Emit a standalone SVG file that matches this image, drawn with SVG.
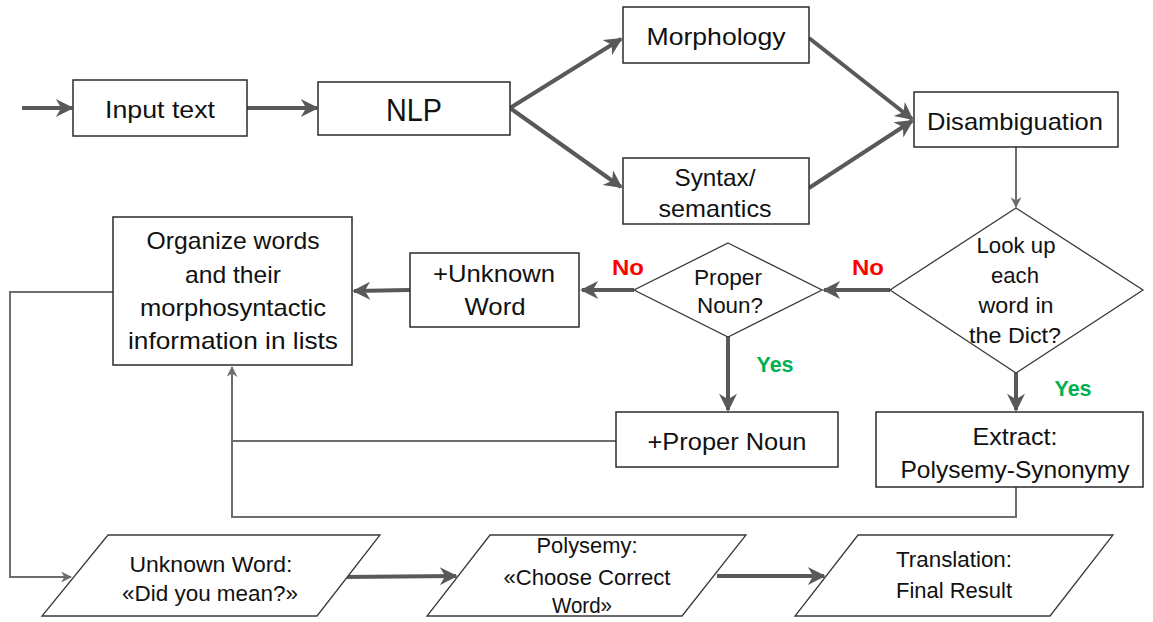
<svg xmlns="http://www.w3.org/2000/svg" width="1153" height="622" viewBox="0 0 1153 622">
<style>
.box{fill:#fff;stroke:#2b2b2b;stroke-width:1.5}
.dia{fill:#fff;stroke:#3a3a3a;stroke-width:1.3}
.t{font-family:"Liberation Sans",Arial,sans-serif;font-size:24px;fill:#111;text-anchor:middle}
.tb{font-family:"Liberation Sans",Arial,sans-serif;font-size:22px;fill:#111;text-anchor:middle}
.thick{stroke:#595959;stroke-width:4;fill:none}
.thin{stroke:#6e6e6e;stroke-width:2;fill:none}
.no{font-family:"Liberation Sans",Arial,sans-serif;font-size:22px;font-weight:bold;fill:#ff0000;text-anchor:middle}
.yes{font-family:"Liberation Sans",Arial,sans-serif;font-size:22px;font-weight:bold;fill:#00b050;text-anchor:middle}
</style>
<defs>
<marker id="ah" viewBox="0 0 10 10" refX="9" refY="5" markerWidth="5" markerHeight="4.5" orient="auto" markerUnits="strokeWidth">
<path d="M0,0 L10,5 L0,10 L3,5 z" fill="#595959"/>
</marker>
<marker id="ahs" viewBox="0 0 10 10" refX="9" refY="5" markerWidth="6" markerHeight="5.5" orient="auto" markerUnits="strokeWidth">
<path d="M0,0 L10,5 L0,10 L3,5 z" fill="#6e6e6e"/>
</marker>
</defs>
<g id="connectors">
<line class="thick" x1="22" y1="108" x2="72" y2="108" marker-end="url(#ah)"/>
<line class="thick" x1="247" y1="108" x2="317" y2="108" marker-end="url(#ah)"/>
<line class="thick" x1="510" y1="108" x2="621" y2="39" marker-end="url(#ah)"/>
<line class="thick" x1="510" y1="108" x2="621" y2="187" marker-end="url(#ah)"/>
<line class="thick" x1="809" y1="38" x2="912" y2="119" marker-end="url(#ah)"/>
<line class="thick" x1="809" y1="188" x2="912" y2="121" marker-end="url(#ah)"/>
<line class="thin" x1="1016" y1="147" x2="1016" y2="207" marker-end="url(#ahs)"/>
<line class="thick" x1="890" y1="290" x2="824" y2="290" marker-end="url(#ah)"/>
<line class="thick" x1="634" y1="290" x2="582" y2="290" marker-end="url(#ah)"/>
<line class="thick" x1="410" y1="290" x2="354" y2="291" marker-end="url(#ah)"/>
<line class="thick" x1="728" y1="337" x2="728" y2="410" marker-end="url(#ah)"/>
<line class="thick" x1="1016" y1="373" x2="1016" y2="410" marker-end="url(#ah)"/>
<polyline class="thin" points="616,441 232,441 232,367" marker-end="url(#ahs)"/>
<polyline class="thin" points="1016,487 1016,517 232,517 232,441"/>
<polyline class="thin" points="113,292 10,292 10,577 71,577" marker-end="url(#ahs)"/>
<line class="thick" x1="343" y1="577" x2="456" y2="576" marker-end="url(#ah)"/>
<line class="thick" x1="717" y1="576" x2="824" y2="576" marker-end="url(#ah)"/>
</g>
<g id="input-text"><rect class="box" x="73" y="80" width="174" height="56"/><text class="t" x="160" y="118" textLength="110" lengthAdjust="spacingAndGlyphs">Input text</text></g>
<g id="nlp"><rect class="box" x="318" y="82" width="192" height="53"/><text class="t" x="414" y="121" style="font-size:31px" textLength="56" lengthAdjust="spacingAndGlyphs">NLP</text></g>
<g id="morphology"><rect class="box" x="623" y="7" width="186" height="56"/><text class="t" x="716" y="45" textLength="139" lengthAdjust="spacingAndGlyphs">Morphology</text></g>
<g id="syntax"><rect class="box" x="623" y="158" width="186" height="66"/><text class="t" x="715" y="186" textLength="81" lengthAdjust="spacingAndGlyphs">Syntax/</text><text class="t" x="715" y="217" textLength="113" lengthAdjust="spacingAndGlyphs">semantics</text></g>
<g id="disambiguation"><rect class="box" x="914" y="92" width="204" height="55"/><text class="t" x="1015" y="130" textLength="176" lengthAdjust="spacingAndGlyphs">Disambiguation</text></g>
<g id="lookup"><polygon class="dia" points="1016,208 1143,290 1016,373 890,290"/><text class="tb" x="1016" y="253" textLength="79" lengthAdjust="spacingAndGlyphs">Look up</text><text class="tb" x="1015" y="283" textLength="48" lengthAdjust="spacingAndGlyphs">each</text><text class="tb" x="1016" y="313" textLength="75" lengthAdjust="spacingAndGlyphs">word in</text><text class="tb" x="1015" y="343" textLength="92" lengthAdjust="spacingAndGlyphs">the Dict?</text></g>
<g id="proper-noun-q"><polygon class="dia" points="728,243 822,290 728,337 634,290"/><text class="tb" x="728" y="285" textLength="68" lengthAdjust="spacingAndGlyphs">Proper</text><text class="tb" x="730" y="313" textLength="66" lengthAdjust="spacingAndGlyphs">Noun?</text></g>
<g id="unknown-word"><rect class="box" x="410" y="253" width="169" height="74"/><text class="t" x="494" y="282" textLength="122" lengthAdjust="spacingAndGlyphs">+Unknown</text><text class="t" x="495" y="315" textLength="61" lengthAdjust="spacingAndGlyphs">Word</text></g>
<g id="organize"><rect class="box" x="113" y="217" width="239" height="148"/><text class="t" x="233" y="249" textLength="173" lengthAdjust="spacingAndGlyphs">Organize words</text><text class="t" x="233" y="283" textLength="96" lengthAdjust="spacingAndGlyphs">and their</text><text class="t" x="233" y="316" textLength="186" lengthAdjust="spacingAndGlyphs">morphosyntactic</text><text class="t" x="233" y="349" textLength="210" lengthAdjust="spacingAndGlyphs">information in lists</text></g>
<g id="proper-noun"><rect class="box" x="616" y="412" width="222" height="55"/><text class="t" x="727" y="450" textLength="159" lengthAdjust="spacingAndGlyphs">+Proper Noun</text></g>
<g id="extract"><rect class="box" x="876" y="412" width="267" height="75"/><text class="t" x="1015" y="445" textLength="85" lengthAdjust="spacingAndGlyphs">Extract:</text><text class="t" x="1015" y="478" textLength="229" lengthAdjust="spacingAndGlyphs">Polysemy-Synonymy</text></g>
<g id="labels"><text class="no" x="628" y="275" textLength="32" lengthAdjust="spacingAndGlyphs">No</text><text class="no" x="868" y="275" textLength="32" lengthAdjust="spacingAndGlyphs">No</text><text class="yes" x="775" y="372" textLength="37" lengthAdjust="spacingAndGlyphs">Yes</text><text class="yes" x="1073" y="396" textLength="37" lengthAdjust="spacingAndGlyphs">Yes</text></g>
<g id="did-you-mean"><polygon class="dia" points="108,535 380,535 317,616 42,616"/><text class="tb" x="211" y="572" textLength="163" lengthAdjust="spacingAndGlyphs">Unknown Word:</text><text class="tb" x="210" y="601" textLength="176" lengthAdjust="spacingAndGlyphs">«Did you mean?»</text></g>
<g id="choose-word"><polygon class="dia" points="490,535 746,535 682,616 427,616"/><text class="tb" x="587" y="553" textLength="101" lengthAdjust="spacingAndGlyphs">Polysemy:</text><text class="tb" x="587" y="585" textLength="167" lengthAdjust="spacingAndGlyphs">«Choose Correct</text><text class="tb" x="582" y="613" textLength="60" lengthAdjust="spacingAndGlyphs">Word»</text></g>
<g id="translation"><polygon class="dia" points="858,535 1113,535 1050,616 795,616"/><text class="tb" x="954" y="567" textLength="116" lengthAdjust="spacingAndGlyphs">Translation:</text><text class="tb" x="954" y="598" textLength="116" lengthAdjust="spacingAndGlyphs">Final Result</text></g>
</svg>
